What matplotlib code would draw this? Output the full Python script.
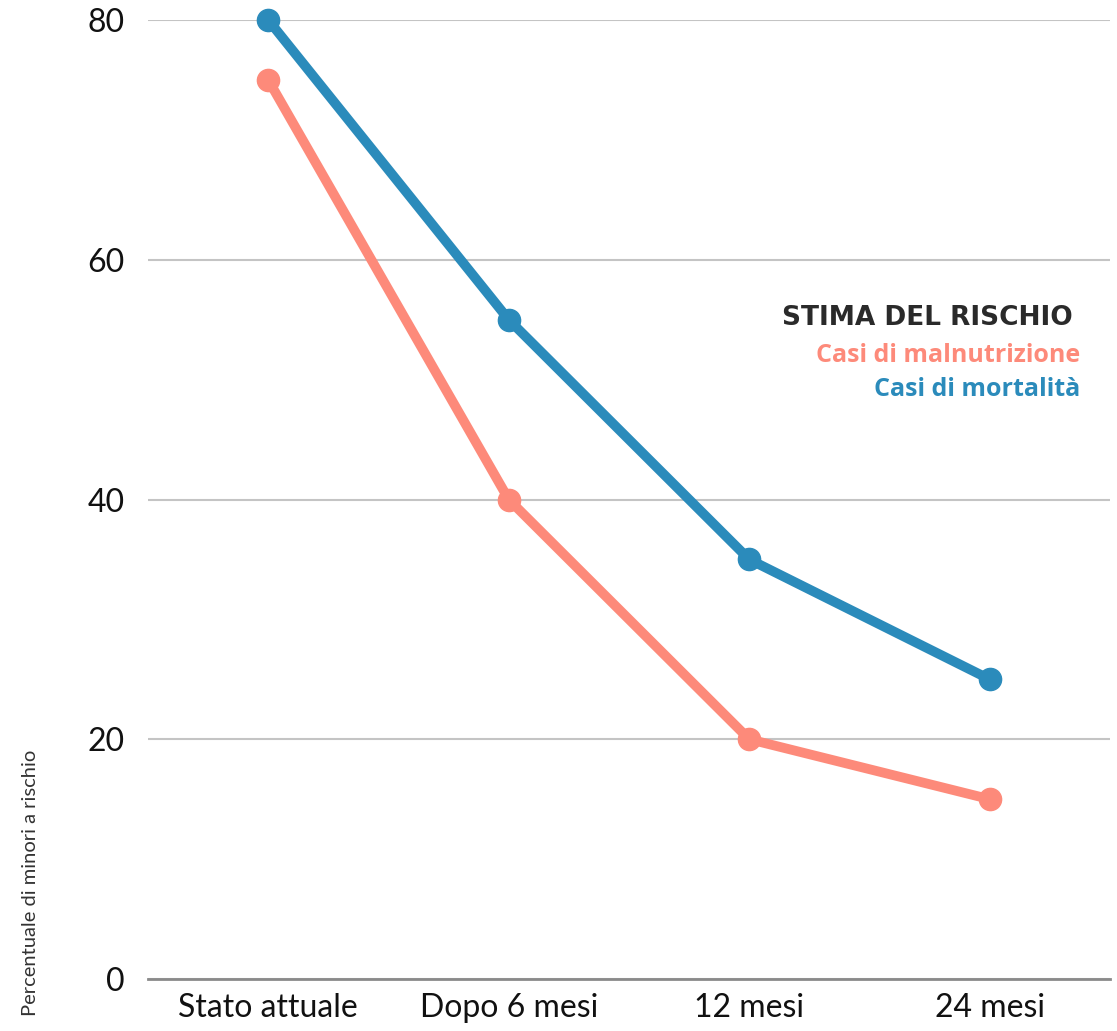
import matplotlib
matplotlib.use("Agg")
import matplotlib.pyplot as plt

# data
categories = ["Stato attuale", "Dopo 6 mesi", "12 mesi", "24 mesi"]
malnutrizione = [75, 40, 20, 15]
mortalita = [80, 55, 35, 25]
yticks = [0, 20, 40, 60, 80]

BLUE = "#2b8bbb"
SALMON = "#fd8a7a"

plt.rcParams["font.family"] = ["Lato", "DejaVu Sans"]

W, H = 1117, 1031
fig = plt.figure(figsize=(W / 100, H / 100), dpi=100)
ax = fig.add_axes([148 / W, (H - 979) / H, (1110 - 148) / W, (979 - 20) / H])

x = range(len(categories))
ax.plot(x, malnutrizione, color=SALMON, lw=7, marker="o", ms=16,
        solid_capstyle="round", clip_on=False, zorder=3)
ax.plot(x, mortalita, color=BLUE, lw=7, marker="o", ms=16,
        solid_capstyle="round", clip_on=False, zorder=4)

ax.set_xlim(-0.5, 3.5)
ax.set_ylim(0, 80)
ax.set_yticks(yticks)
ax.set_yticklabels([str(v) for v in yticks])
ax.set_xticks(list(x))
ax.set_xticklabels(categories)
ax.tick_params(axis="both", length=0, labelsize=23, colors="#111111")
ax.tick_params(axis="y", pad=17)
ax.tick_params(axis="x", pad=10)
ax.yaxis.grid(True, color="#c4c4c4", lw=1.5)
ax.set_axisbelow(True)
for s in ["top", "right", "left"]:
    ax.spines[s].set_visible(False)
ax.spines["bottom"].set_color("#8a8a8a")
ax.spines["bottom"].set_linewidth(2)
ax.spines["bottom"].set_zorder(2)

# legend as text
fig.text(1073 / W, 1 - 318 / H, "STIMA DEL RISCHIO", ha="right", va="center",
         fontsize=19, fontweight="bold", color="#2a2a2a", family=["DejaVu Sans"])
fig.text(1080 / W, 1 - 355 / H, "Casi di malnutrizione", ha="right", va="center",
         fontsize=18, fontweight="bold", color=SALMON, family=["Open Sans", "DejaVu Sans"])
fig.text(1080 / W, 1 - 389 / H, "Casi di mortalità", ha="right", va="center",
         fontsize=18, fontweight="bold", color=BLUE, family=["Open Sans", "DejaVu Sans"])

fig.text(31 / W, 1 - 1016 / H, "Percentuale di minori a rischio", rotation=90,
         ha="center", va="bottom", fontsize=14.5, color="#333333")

fig.savefig("out.png", dpi=100, facecolor="white")
